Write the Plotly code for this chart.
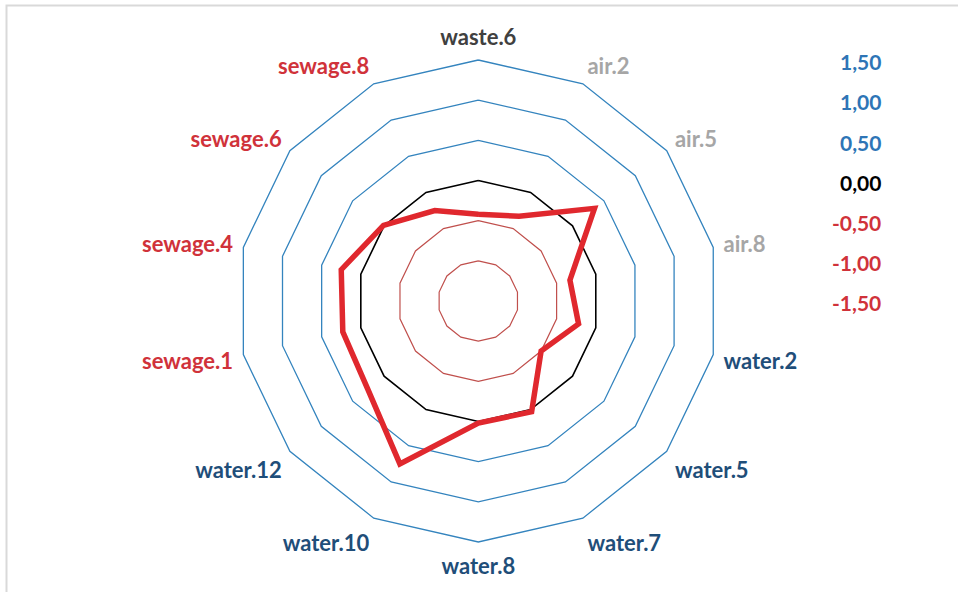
import plotly.graph_objects as go

categories = ["waste.6", "air.2", "air.5", "air.8", "water.2", "water.5", "water.7",
              "water.8", "water.10", "water.12", "sewage.1", "sewage.4", "sewage.6", "sewage.8"]
values = [-0.42, -0.33, 0.35, -0.33, -0.22, -0.50, 0.03,
          0.02, 0.75, 0.26, 0.23, 0.25, 0.01, -0.25]
ring_values = [-1.0, -0.5, 0.0, 0.5, 1.0, 1.5]
scale_labels = ["1,50", "1,00", "0,50", "0,00", "-0,50", "-1,00", "-1,50"]

group_colors = {"waste": "#404040", "air": "#A6A6A6", "water": "#1F4E79", "sewage": "#D0323A"}
ring_colors = {-1.0: "#C0504D", -0.5: "#C0504D", 0.0: "#000000",
               0.5: "#3484BE", 1.0: "#3484BE", 1.5: "#3484BE"}
ring_widths = {-1.0: 1.2, -0.5: 1.2, 0.0: 1.6, 0.5: 1.3, 1.0: 1.3, 1.5: 1.3}
scale_colors = ["#2E75B6", "#2E75B6", "#2E75B6", "#000000", "#D0323A", "#D0323A", "#D0323A"]

ticktext = ['<span style="color:%s"><b>%s</b></span>' % (group_colors[c.split(".")[0]], c)
            for c in categories]

fig = go.Figure()
closed_cats = categories + [categories[0]]
for rv in ring_values:
    fig.add_trace(go.Scatterpolar(
        r=[rv] * (len(categories) + 1), theta=closed_cats, mode="lines",
        line=dict(color=ring_colors[rv], width=ring_widths[rv]),
        cliponaxis=False, hoverinfo="skip", showlegend=False))

fig.add_trace(go.Scatterpolar(
    r=values + [values[0]], theta=closed_cats, mode="lines",
    line=dict(color="#E0282E", width=5.5), cliponaxis=False, showlegend=False))

W, H = 958, 592
r_min, r_max = -1.5, 1.52
cx, cy = 478.3, 301.0
R = 241.0 * (r_max - r_min) / 3.0
FONT = "Lato, Open Sans, sans-serif"
fig.update_layout(
    width=W, height=H,
    margin=dict(l=0, r=0, t=0, b=0),
    paper_bgcolor="white", plot_bgcolor="white",
    font=dict(family=FONT, size=22),
    polar=dict(
        domain=dict(x=[(cx - R) / W, (cx + R) / W], y=[(H - cy - R) / H, (H - cy + R) / H]),
        bgcolor="white",
        gridshape="linear",
        radialaxis=dict(range=[r_min, r_max], showgrid=False, showticklabels=False,
                        showline=False, ticks=""),
        angularaxis=dict(rotation=90, direction="clockwise", showgrid=False,
                         showline=False, ticks="outside", ticklen=4,
                         tickcolor="rgba(0,0,0,0)", tickmode="array",
                         tickvals=categories, ticktext=ticktext,
                         tickfont=dict(family=FONT, size=22)),
    ),
    shapes=[dict(type="rect", xref="paper", yref="paper",
                 x0=6.5 / W, x1=1.02, y0=-0.02, y1=1 - 5.5 / H,
                 line=dict(color="#D9D9D9", width=2), fillcolor="rgba(0,0,0,0)")],
)

for i, (lab, col) in enumerate(zip(scale_labels, scale_colors)):
    fig.add_annotation(x=883 / W, y=1 - (62 + 40 * i) / H, xref="paper", yref="paper",
                       xanchor="right", yanchor="middle", showarrow=False,
                       text="<b>%s</b>" % lab,
                       font=dict(family=FONT, size=21, color=col))

fig.write_html("out.html", config={"displayModeBar": False},
               post_script="document.body.style.margin='0';")
